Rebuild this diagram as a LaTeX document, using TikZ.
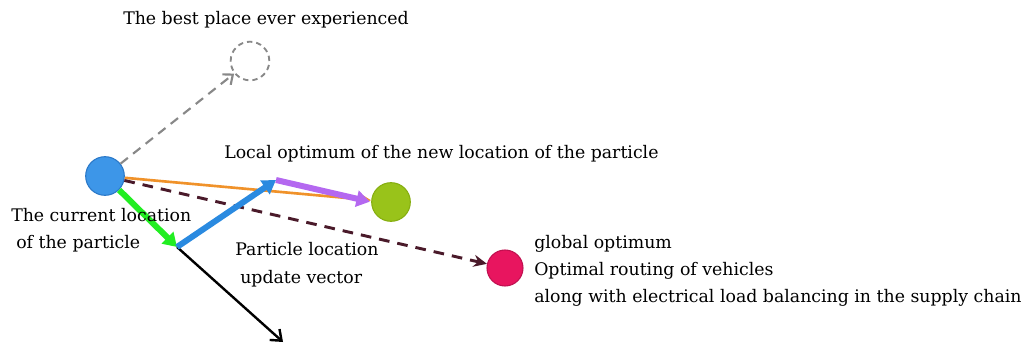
\documentclass[tikz,border=0pt]{standalone}
\usepackage{fontspec}
\setmainfont{DejaVu Serif}
\usetikzlibrary{arrows.meta}
\definecolor{pblue}{HTML}{3D96E8}
\definecolor{pblueb}{HTML}{2A78C8}
\definecolor{pgreen}{HTML}{99C31A}
\definecolor{pgreenb}{HTML}{86AE10}
\definecolor{ppink}{HTML}{E8155F}
\definecolor{ppinkb}{HTML}{C01050}
\definecolor{porange}{HTML}{F0922A}
\definecolor{ppurple}{HTML}{B468F0}
\definecolor{agreen}{HTML}{22EE22}
\definecolor{ablue}{HTML}{2A8AE0}
\definecolor{maroon}{HTML}{4A1A2A}
\definecolor{dgray}{HTML}{888888}
\begin{document}
\begin{tikzpicture}[x=0.75pt,y=-0.75pt,
  particle/.style={circle, minimum size=29pt, inner sep=0pt, line width=0.8pt},
  lbl/.style={font=\fontsize{13}{15}\selectfont, inner sep=0pt, anchor=base west},
  thickarrow/.style={line width=4.5pt, -{Triangle[length=10pt,width=12pt]}}
]
\useasboundingbox (0,0) rectangle (1024,346);
% nodes
\node[particle, fill=pblue, draw=pblueb] (cur) at (105,176) {};
\node[particle, draw=dgray, dashed, line width=1.4pt, dash pattern=on 4pt off 3pt] (best) at (250,61) {};
\node[particle, fill=pgreen, draw=pgreenb] (loc) at (391,202) {};
\node[particle, minimum size=27pt, fill=ppink, draw=ppinkb] (glob) at (505,268) {};
\coordinate (J) at (177,247);
\coordinate (B) at (276,180);
\coordinate (E) at (283,342);
% connectors
\draw[dgray, line width=1.6pt, dash pattern=on 7pt off 5pt, -{Straight Barb[length=6pt,width=10pt]}] (cur) -- (best);
\draw[porange, line width=2pt, -{Triangle[length=10pt,width=9pt]}] (cur) -- (loc);
\draw[maroon, line width=2.2pt, dash pattern=on 8pt off 6pt, -{Stealth[length=10pt,width=9pt]}] (cur) -- (glob);
\draw[agreen, thickarrow] (cur) -- (J);
\draw[black, line width=1.8pt, -{Straight Barb[length=7pt,width=11pt]}] (J) -- (E);
\draw[ablue, thickarrow] (J) -- (B);
\draw[ppurple, thickarrow, shorten >=1pt] (B) -- (loc.west);
% labels
\node[lbl] (tbest) at (123,25) {The best place ever experienced};
\node[lbl] (tloc) at (224,158) {Local optimum of the new location of the particle};
\node[lbl] (tcur1) at (11,221) {The current location};
\node[lbl] (tcur2) at (16,248) {of the particle};
\node[lbl] (tup1) at (235,255) {Particle location};
\node[lbl] (tup2) at (240,283) {update vector};
\node[lbl] (tg1) at (534,248) {global optimum};
\node[lbl] (tg2) at (534,275) {Optimal routing of vehicles};
\node[lbl] (tg3) at (534,302) {along with electrical load balancing in the supply chain};
\end{tikzpicture}
\end{document}
